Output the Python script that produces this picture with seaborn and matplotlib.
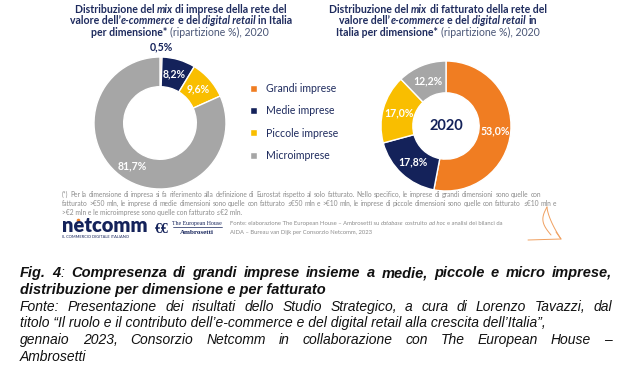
import matplotlib
matplotlib.use("Agg")
import numpy as np
import pandas as pd
import seaborn as sns
import matplotlib.pyplot as plt
from matplotlib.lines import Line2D
from matplotlib.font_manager import FontProperties

# ---------------- data ----------------
categories = ["Grandi imprese", "Medie imprese", "Piccole imprese", "Microimprese"]
imprese_pct = [0.5, 8.2, 9.6, 81.7]
fatturato_pct = [53.0, 17.8, 17.0, 12.2]
year_label = "2020"

sns.set_theme(style="white")
plt.rcParams['font.family'] = ['Lato']

NAVY = "#14225A"
TITLE = "#1E2B5E"
SUB = "#4A5677"
GRAYTXT = "#8C8C8C"
colors = sns.color_palette(["#F07D22", "#14225A", "#F9BE00", "#A6A6A6"])

W, H = 630, 375
fig = plt.figure(figsize=(W / 100, H / 100), dpi=100)
fig.patch.set_facecolor("white")
R = fig.canvas.get_renderer()


def fx(x):
    return x / W


def fy(y):
    return 1 - y / H


SANS = ['Lato']
ARIAL = ['Liberation Sans']
STY = {
    'b': dict(family=SANS, weight='bold', color=TITLE, size=7.6),
    'bi': dict(family=SANS, weight='bold', style='italic', color=TITLE, size=7.6),
    'n': dict(family=SANS, weight='normal', color=SUB, size=7.6),
    'f': dict(family=SANS, weight='normal', color=GRAYTXT, size=4.3),
    's': dict(family=SANS, weight='normal', color=GRAYTXT, size=4.6),
    'si': dict(family=SANS, weight='normal', style='italic', color=GRAYTXT, size=4.6),
    'cbi': dict(family=ARIAL, weight='bold', style='italic', color='#111111', size=10.2),
    'ci': dict(family=ARIAL, weight='normal', style='italic', color='#111111', size=10.0),
}


def width(s, kw):
    prop = FontProperties(family=kw['family'], weight=kw.get('weight', 'normal'),
                          style=kw.get('style', 'normal'), size=kw['size'])
    w, _, _ = R.get_text_width_height_descent(s, prop, ismath=False)
    return w


def adv(s, kw):
    # advance width (independent of italic overhang)
    return width('x' + s + 'x', kw) - width('xx', kw)


def fit_size(key, text, target):
    STY[key]['size'] = round(STY[key]['size'] * target / adv(text, STY[key]), 1)


def line(segs, y, x=None, cx=None, x1=None):
    """Mixed-style line. Segments are drawn whole; if x1 is given, the line is
    justified by spreading its words."""
    pieces = []
    trailing = False
    if x1 is not None:
        for text, st in segs:
            for i, p in enumerate(text.split(' ')):
                if p:
                    pieces.append([p, st, (i > 0) or trailing])
            trailing = text.endswith(' ')
    else:
        for text, st in segs:
            pieces.append([text.strip(' '), st, text.startswith(' ') or trailing])
            trailing = text.endswith(' ')
    if pieces:
        pieces[0][2] = False
    ws = [adv(p[0], STY[p[1]]) for p in pieces]
    sp = [adv(' ', STY[p[1]]) if p[2] else 0 for p in pieces]
    nat = sum(ws) + sum(sp)
    nsp = sum(1 for p in pieces if p[2])
    extra = 0
    if cx is not None:
        x = cx - nat / 2
    if x1 is not None and nsp:
        extra = max(0, (x1 - x - nat) / nsp)
    pos = x
    for p, ww, spw in zip(pieces, ws, sp):
        if p[2]:
            pos += spw + extra
        fig.text(fx(pos), fy(y), p[0], ha='left', va='baseline', **STY[p[1]])
        pos += ww


# ---------------- titles ----------------
line([("Distribuzione del ", 'b'), ("mix", 'bi'), (" di imprese della rete del", 'b')], 13, cx=181)
line([("valore dell’", 'b'), ("e-commerce", 'bi'), (" e del ", 'b'), ("digital retail", 'bi'),
      (" in Italia", 'b')], 24.5, cx=181)
line([("per dimensione*", 'b'), (" (ripartizione %), 2020", 'n')], 36, cx=180)

line([("Distribuzione del ", 'b'), ("mix", 'bi'), (" di fatturato della rete del", 'b')], 13, cx=438)
line([("valore dell’", 'b'), ("e-commerce", 'bi'), (" e del ", 'b'), ("digital retail", 'bi'),
      (" in", 'b')], 24.5, cx=438)
line([("Italia per dimensione*", 'b'), (" (ripartizione %), 2020", 'n')], 36, cx=438)


# ---------------- donuts ----------------
def fmt(v):
    return f"{v:.1f}".replace('.', ',') + '%'


def donut(values, cx, cy, r, wfrac, center=None):
    ax = fig.add_axes([fx(cx - r), fy(cy + r), 2 * r / W, 2 * r / H])
    wedges, _ = ax.pie(values, colors=colors, startangle=90, counterclock=False,
                       wedgeprops=dict(width=wfrac, edgecolor='white', linewidth=1.0))
    ax.set_xlim(-1, 1)
    ax.set_ylim(-1, 1)
    ax.set_aspect('equal')
    ax.axis('off')
    rmid = 1 - wfrac / 2
    for wdg, v in zip(wedges, values):
        a = np.deg2rad((wdg.theta1 + wdg.theta2) / 2)
        if v < 3:
            ax.text(1.16 * np.cos(a), 1.16 * np.sin(a), fmt(v), ha='center', va='center',
                    color=NAVY, fontsize=7.6, fontweight='bold', family=SANS)
        else:
            ax.text(rmid * np.cos(a), rmid * np.sin(a), fmt(v), ha='center', va='center',
                    color='white', fontsize=7.6, fontweight='bold', family=SANS)
    if center:
        ax.text(0, 0, center, ha='center', va='center', color=NAVY, fontsize=10.5,
                fontweight='bold', family=SANS)
    return wedges


wl = donut(imprese_pct, 160, 123, 66, 0.45)
wr = donut(fatturato_pct, 446, 126, 65, 0.49, center=year_label)

fig.legend(wl, categories, loc='upper left', bbox_to_anchor=(fx(250), fy(83)),
           bbox_transform=fig.transFigure, frameon=False, borderpad=0, borderaxespad=0,
           handlelength=0.65, handleheight=0.65, handletextpad=0.9, labelspacing=1.07,
           prop=dict(family=SANS, size=7.6), labelcolor=TITLE)

# ---------------- footnote ----------------
fn1 = ("(*) Per la dimensione di impresa si fa riferimento alla definizione di Eurostat rispetto al solo "
       "fatturato. Nello specifico, le imprese di grandi dimensioni sono quelle con")
fn2 = ("fatturato >€50 mln, le imprese di medie dimensioni sono quelle con fatturato ≤€50 mln e >€10 mln, "
       "le imprese di piccole dimensioni sono quelle con fatturato ≤€10 mln e")
fn3 = ">€2 mln e le microimprese sono quelle con fatturato ≤€2 mln."
fit_size('f', fn1, 476)
line([(fn1, 'f')], 197, x=62, x1=541)
line([(fn2, 'f')], 206, x=62, x1=539)
line([(fn3, 'f')], 215, x=62)

# ---------------- logos / source ----------------
fig.text(fx(62), fy(232), "netcomm", ha='left', va='baseline', family=SANS, weight='heavy',
         color=NAVY, size=14.5)
fig.add_artist(Line2D([fx(77.5)], [fy(219.5)], marker='o', ms=2.6, color="#F07D22", mew=0))
fig.text(fx(62), fy(238), "IL COMMERCIO DIGITALE ITALIANO", ha='left', va='baseline', family=SANS,
         color=NAVY, size=2.9)
fig.text(fx(162), fy(233), "€€", ha='center', va='baseline', family=['Liberation Serif'],
         weight='bold', color=NAVY, size=10)
fig.text(fx(197), fy(225), "The European House", ha='center', va='baseline',
         family=['Liberation Serif'], color=NAVY, size=4.2)
fig.add_artist(Line2D([fx(173), fx(222)], [fy(227), fy(227)], color=NAVY, lw=0.5))
fig.text(fx(197), fy(234), "Ambrosetti", ha='center', va='baseline',
         family=['Liberation Serif'], weight='bold', color=NAVY, size=5)

src1 = [("Fonte: elaborazione The European House – Ambrosetti su ", 's'), ("database", 'si'),
        (" costruito ", 's'), ("ad hoc", 'si'), (" e analisi dei bilanci da", 's')]
fit_size('s', "Fonte: elaborazione The European House – Ambrosetti su database costruito ad hoc "
              "e analisi dei bilanci da", 270)
STY['si']['size'] = STY['s']['size']
line(src1, 225, x=230)
line([("AIDA – Bureau van Dijk per Consorzio Netcomm, 2023", 's')], 234, x=230)

# sailboat mark
ORG = "#F0A060"
t = np.linspace(0, 1, 30)
sx = 547 + 14 * t ** 1.5
sy = 207 + 32 * t
fig.add_artist(Line2D(fx(sx), fy(sy), color=ORG, lw=0.7))
sx2 = 547 - 6 * np.sin(np.pi * t) + 4 * t
sy2 = 207 + 28 * t
fig.add_artist(Line2D(fx(sx2), fy(sy2), color=ORG, lw=0.7))
fig.add_artist(Line2D([fx(528), fx(561), fx(556)], [fy(240), fy(239), fy(232)], color=ORG, lw=0.7))

# ---------------- caption ----------------
cap_b2 = "distribuzione per dimensione e per fatturato"
cap_i2 = "titolo “Il ruolo e il contributo dell’e-commerce e del digital retail alla crescita dell’Italia”,"
fit_size('cbi', cap_b2, 304)
fit_size('ci', cap_i2, 527)
line([("Fig. 4", 'cbi'), (": ", 'ci'),
      ("Compresenza di grandi imprese insieme a medie, piccole e micro imprese,", 'cbi')],
     277, x=20, x1=612)
line([(cap_b2, 'cbi')], 294, x=20)
line([("Fonte: Presentazione dei risultati dello Studio Strategico, a cura di Lorenzo Tavazzi, dal", 'ci')],
     311, x=20, x1=612)
line([(cap_i2, 'ci')], 327.5, x=20)
line([("gennaio 2023, Consorzio Netcomm in collaborazione con The European House –", 'ci')],
     344, x=20, x1=612)
line([("Ambrosetti", 'ci')], 361, x=20)

fig.savefig("out.png", dpi=100, facecolor="white")
